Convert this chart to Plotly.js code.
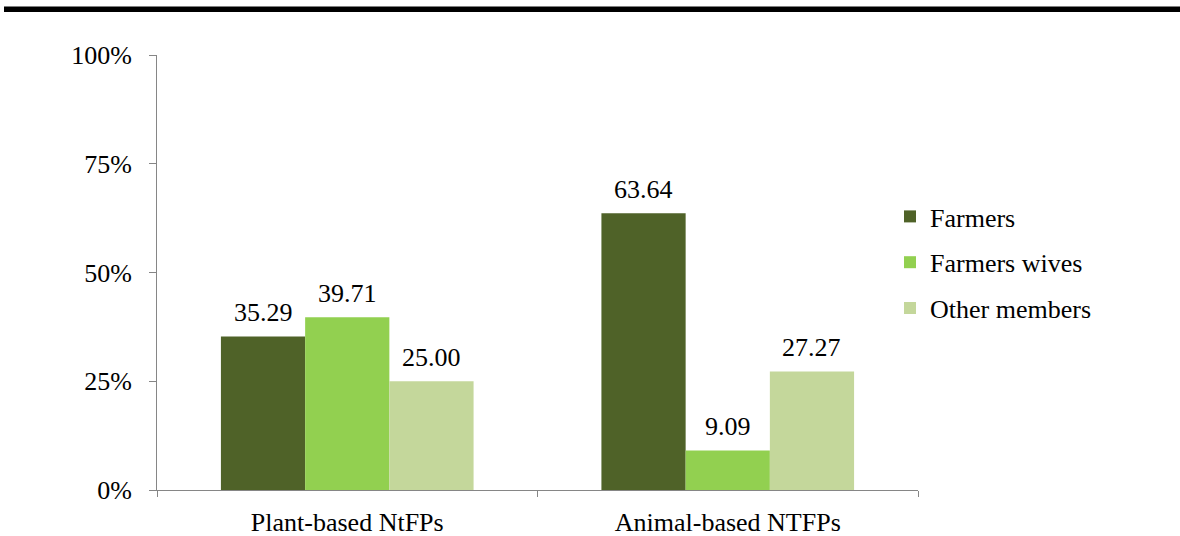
<!DOCTYPE html>
<html>
<head>
<meta charset="utf-8">
<script src="https://cdn.plot.ly/plotly-3.0.1.min.js"></script>
<style>html,body{margin:0;padding:0;background:#fff;}#chart{width:1180px;height:536px;}</style>
</head>
<body>
<div id="chart"></div>
<script>
const categories = ["Plant-based NtFPs", "Animal-based NTFPs"];
const farmers = [35.29, 63.64];
const farmersWives = [39.71, 9.09];
const otherMembers = [25.00, 27.27];
const seriesNames = ["Farmers", "Farmers wives", "Other members"];
const yTicks = [0, 25, 50, 75, 100];

const colors = ["#4F6228", "#92D050", "#C4D79B"];
const fontFamily = "Liberation Serif, Times New Roman, serif";
const FS = 26;
const seriesData = [farmers, farmersWives, otherMembers];
const bargap = 0.336;
const barW = (1 - bargap) / seriesData.length;

const traces = seriesData.map((vals, i) => ({
  type: "bar",
  name: seriesNames[i],
  x: categories.map((c, k) => k),
  y: vals,
  offsetgroup: String(i),
  marker: {color: colors[i]},
  legendgroup: "g" + i,
  hoverinfo: "none"
}));

const annotations = [];
seriesData.forEach((vals, i) => {
  vals.forEach((v, k) => {
    annotations.push({
      x: k + (i - (seriesData.length - 1) / 2) * barW,
      y: v, xref: "x", yref: "y",
      text: v.toFixed(2), showarrow: false,
      xanchor: "center", yanchor: "bottom", yshift: 7,
      font: {family: fontFamily, size: FS, color: "#000"}
    });
  });
});

const W = 1180, H = 536, L = 157, R = 918, T = 55, B = 490;
const pw = R - L, ph = B - T;
const px2x = p => (p - L) / pw;
const py2y = p => (B - p) / ph;

const layout = {
  width: W, height: H,
  margin: {l: L, r: W - R, t: T, b: H - B, pad: 0},
  paper_bgcolor: "#fff", plot_bgcolor: "#fff",
  barmode: "group",
  bargap: bargap,
  bargroupgap: 0,
  font: {family: fontFamily, size: FS, color: "#000"},
  showlegend: true,
  legend: {
    x: px2x(890), y: py2y(193), xanchor: "left", yanchor: "top",
    font: {family: fontFamily, size: FS, color: "#000"},
    traceorder: "grouped",
    tracegroupgap: 9,
    itemwidth: 30,
    bgcolor: "rgba(0,0,0,0)"
  },
  xaxis: {
    range: [-0.5, categories.length - 0.5],
    tickvals: categories.map((c, k) => k),
    ticktext: categories,
    showline: true, linecolor: "#868686", linewidth: 1,
    ticks: "", showgrid: false, zeroline: false,
    tickfont: {family: fontFamily, size: FS, color: "#000"},
    ticklabelstandoff: 9
  },
  xaxis2: {
    overlaying: "x", matching: "x", range: [-0.5, categories.length - 0.5],
    tickvals: [-0.5, 0.5, 1.5], ticktext: ["", "", ""],
    ticks: "outside", ticklen: 6, tickcolor: "#868686", tickwidth: 1,
    showline: false, showgrid: false, zeroline: false, side: "bottom", anchor: "y"
  },
  yaxis: {
    range: [0, 100],
    tickvals: yTicks,
    ticktext: yTicks.map(v => v + "%"),
    showline: true, linecolor: "#868686", linewidth: 1,
    ticks: "outside", ticklen: 7, tickcolor: "#868686",
    showgrid: false, zeroline: false,
    tickfont: {family: fontFamily, size: FS, color: "#000"},
    ticklabelstandoff: 12
  },
  annotations: annotations,
  shapes: [{
    type: "rect", xref: "paper", yref: "paper",
    x0: px2x(4), x1: px2x(1180), y0: py2y(12), y1: py2y(6.5),
    fillcolor: "#000", line: {width: 0}, layer: "above"
  }]
};

traces.push({type: "scatter", x: [], y: [], xaxis: "x2", showlegend: false, hoverinfo: "none"});

Plotly.newPlot("chart", traces, layout, {displayModeBar: false, staticPlot: true});
</script>
</body>
</html>
